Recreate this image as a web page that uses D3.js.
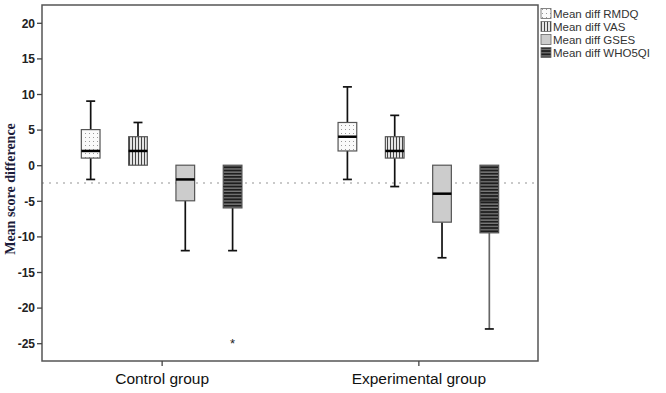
<!DOCTYPE html>
<html><head><meta charset="utf-8">
<script src="https://cdn.jsdelivr.net/npm/d3@7"></script>
<style>body{margin:0;background:#fff}svg{display:block}</style>
</head><body>
<svg id="c" width="666" height="393"></svg>
<script>
const groups = ["Control group", "Experimental group"];
const series = ["Mean diff RMDQ", "Mean diff VAS", "Mean diff GSES", "Mean diff WHO5QI"];
// [lowWhisker, Q1, median, Q3, highWhisker] per group, per series
const rmdqStats  = [[-2, 1, 2, 5, 9],   [-2, 2, 4, 6, 11]];
const vasStats   = [[0, 0, 2, 4, 6],    [-3, 1, 2, 4, 7]];
const gsesStats  = [[-12, -5, -2, 0, 0], [-13, -8, -4, 0, 0]];
const who5Stats  = [[-12, -6, -3, 0, 0], [-23, -9.5, -5, 0, 0]];
const outliers = [{group: "Control group", series: "Mean diff WHO5QI", value: -25}];
const yTicks = [20, 15, 10, 5, 0, -5, -10, -15, -20, -25];
const refLine = -2.5;

const statsBySeries = [rmdqStats, vasStats, gsesStats, who5Stats];

const svg = d3.select("#c");
const L = 42, R = 538, T = 5, B = 361;

const defs = svg.append("defs");
const p1 = defs.append("pattern").attr("id","pDot").attr("patternUnits","userSpaceOnUse").attr("width",4).attr("height",4);
p1.append("rect").attr("width",4).attr("height",4).attr("fill","#fafafa");
p1.append("rect").attr("x",1).attr("y",1).attr("width",1).attr("height",1).attr("fill","#999");
const p2 = defs.append("pattern").attr("id","pVert").attr("patternUnits","userSpaceOnUse").attr("width",3).attr("height",3);
p2.append("rect").attr("width",3).attr("height",3).attr("fill","#e4e4e4");
p2.append("rect").attr("x",0).attr("width",1).attr("height",3).attr("fill","#444");
const p4 = defs.append("pattern").attr("id","pHor").attr("patternUnits","userSpaceOnUse").attr("width",3).attr("height",3.2);
p4.append("rect").attr("width",3).attr("height",3.2).attr("fill","#1e1e1e");
p4.append("rect").attr("y",2).attr("width",3).attr("height",1).attr("fill","#9a9a9a");

const fills = ["url(#pDot)", "url(#pVert)", "#cccccc", "url(#pHor)"];

const y = d3.scaleLinear().domain([-27.5, 22.5]).range([B, T]);
const x0 = d3.scalePoint().domain(groups).range([L, R]).padding(0.466);
const x1 = d3.scaleBand().domain(series).range([-80.3, 80.3]).paddingInner(0.605).paddingOuter(0);
const bw = x1.bandwidth();

svg.append("line").attr("x1", L).attr("x2", R).attr("y1", y(refLine)).attr("y2", y(refLine))
  .attr("stroke", "#b8b8b8").attr("stroke-width", 1.6).attr("stroke-dasharray", "2,5");

series.forEach((s, si) => {
  groups.forEach((g, gi) => {
    const [lo, q1, med, q3, hi] = statsBySeries[si][gi];
    const cx = x0(g) + x1(s) + bw / 2;
    const gEl = svg.append("g");
    const wcol = "#111";
    if (hi > q3) {
      gEl.append("line").attr("x1", cx).attr("x2", cx).attr("y1", y(q3)).attr("y2", y(hi)).attr("stroke", wcol).attr("stroke-width", 1.7);
      gEl.append("line").attr("x1", cx - 4.5).attr("x2", cx + 4.5).attr("y1", y(hi)).attr("y2", y(hi)).attr("stroke", wcol).attr("stroke-width", 1.7);
    }
    if (lo < q1) {
      gEl.append("line").attr("x1", cx).attr("x2", cx).attr("y1", y(q1)).attr("y2", y(lo)).attr("stroke", si === 3 && gi === 1 ? "#666" : wcol).attr("stroke-width", 1.7);
      gEl.append("line").attr("x1", cx - 4.5).attr("x2", cx + 4.5).attr("y1", y(lo)).attr("y2", y(lo)).attr("stroke", wcol).attr("stroke-width", 1.7);
    }
    gEl.append("rect").attr("x", cx - bw / 2).attr("y", y(q3)).attr("width", bw).attr("height", y(q1) - y(q3))
      .attr("fill", fills[si]).attr("stroke", "#555").attr("stroke-width", 1.2);
    gEl.append("line").attr("x1", cx - bw / 2).attr("x2", cx + bw / 2).attr("y1", y(med)).attr("y2", y(med))
      .attr("stroke", si === 3 ? "#1e1e1e" : "#000").attr("stroke-width", si === 3 ? 1 : 2.5);
  });
});

outliers.forEach(o => {
  const cx = x0(o.group) + x1(o.series) + bw / 2;
  svg.append("text").attr("x", cx).attr("y", y(o.value) + 5).attr("text-anchor", "middle")
    .attr("font-family", "Liberation Sans, Arial, sans-serif").attr("font-size", 13).attr("fill", "#222").text("*");
});

svg.append("rect").attr("x", L).attr("y", T).attr("width", R - L).attr("height", B - T)
  .attr("fill", "none").attr("stroke", "#555").attr("stroke-width", 1.5);

const ya = svg.append("g").attr("transform", `translate(${L},0)`)
  .call(d3.axisLeft(y).tickValues(yTicks).tickSize(5).tickSizeOuter(0).tickFormat(d => String(d)));
ya.select(".domain").remove();
ya.selectAll(".tick line").attr("stroke", "#444").attr("stroke-width", 1.3);
ya.selectAll(".tick text").attr("font-family", "Liberation Sans, Arial, sans-serif").attr("font-size", 12)
  .attr("font-weight", "bold").attr("fill", "#222").attr("dx", "1").attr("dy", "0.36em");

const xa = svg.append("g").attr("transform", `translate(0,${B})`)
  .call(d3.axisBottom(x0).tickSize(5).tickSizeOuter(0));
xa.select(".domain").remove();
xa.selectAll(".tick line").attr("stroke", "#444").attr("stroke-width", 1.3);
xa.selectAll(".tick text").attr("font-family", "Liberation Sans, Arial, sans-serif").attr("font-size", 15.5)
  .attr("fill", "#111").attr("dy", "0.95em");

svg.append("text").attr("transform", `translate(15,${(T + B) / 2 + 6}) rotate(-90)`).attr("text-anchor", "middle")
  .attr("font-family", "Liberation Serif, Times New Roman, serif").attr("font-weight", "bold").attr("font-size", 14)
  .attr("fill", "#1c1c3a").text("Mean score difference");

const lg = svg.append("g").attr("transform", "translate(541,8)");
series.forEach((s, i) => {
  const row = lg.append("g").attr("transform", `translate(0,${i * 13})`);
  row.append("rect").attr("x", 0).attr("y", 0.5).attr("width", 10).attr("height", 10)
    .attr("fill", fills[i]).attr("stroke", "#666").attr("stroke-width", 0.8);
  row.append("text").attr("x", 12).attr("y", 10).attr("font-family", "Liberation Sans, Arial, sans-serif")
    .attr("font-size", 11.5).attr("fill", "#333").text(s);
});
</script>
</body></html>
